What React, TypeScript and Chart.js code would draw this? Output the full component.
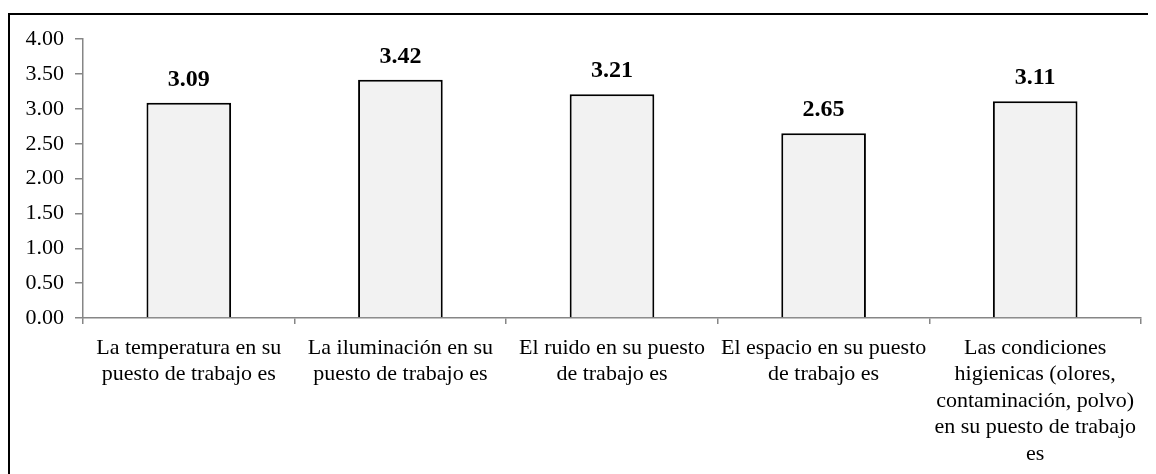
import React, { useEffect, useRef } from "react";
import { Chart, registerables } from "chart.js";

Chart.register(...registerables);

const categories: string[][] = [
  ["La temperatura en su", "puesto de trabajo es"],
  ["La iluminación en su", "puesto de trabajo es"],
  ["El ruido en su puesto", "de trabajo es"],
  ["El espacio en su puesto", "de trabajo es"],
  ["Las condiciones", "higienicas (olores,", "contaminación, polvo)", "en su puesto de trabajo", "es"],
];
const values: number[] = [3.09, 3.42, 3.21, 2.65, 3.11];
const yMin = 0;
const yMax = 4;
const yStep = 0.5;

const FONT = "'Liberation Serif', 'Times New Roman', serif";

const valueLabels = {
  id: "valueLabels",
  afterDatasetsDraw(chart: any) {
    const ctx = chart.ctx;
    const meta = chart.getDatasetMeta(0);
    ctx.save();
    ctx.font = `bold 24px ${FONT}`;
    ctx.fillStyle = "#000";
    ctx.textAlign = "center";
    ctx.textBaseline = "middle";
    meta.data.forEach((bar: any, i: number) => {
      const v = chart.data.datasets[0].data[i] as number;
      ctx.fillText(v.toFixed(2), bar.x, bar.y - 23);
    });
    ctx.restore();
  },
};

export default function App() {
  const ref = useRef<HTMLCanvasElement | null>(null);
  useEffect(() => {
    if (!ref.current) return;
    const chart = new Chart(ref.current, {
      type: "bar",
      data: {
        labels: categories,
        datasets: [
          {
            data: values,
            backgroundColor: "#f2f2f2",
            borderColor: "#000",
            borderWidth: 2,
            barPercentage: 0.4,
            categoryPercentage: 1,
          },
        ],
      },
      options: {
        responsive: false,
        animation: false,
        layout: { padding: { left: 0, top: 24, right: 15, bottom: 0 } },
        plugins: { legend: { display: false }, tooltip: { enabled: false } },
        scales: {
          y: {
            min: yMin,
            max: yMax,
            ticks: {
              stepSize: yStep,
              color: "#000",
              padding: 11,
              font: { family: FONT, size: 22 },
              callback: (v: any) => Number(v).toFixed(2),
            },
            grid: { drawOnChartArea: false, drawTicks: true, tickLength: 8, color: "#868686", lineWidth: 1.5 },
            border: { color: "#868686", width: 1.5 },
            afterFit: (s: any) => {
              s.width = 73;
            },
          },
          x: {
            ticks: {
              color: "#000",
              padding: 11,
              maxRotation: 0,
              autoSkip: false,
              font: { family: FONT, size: 22, lineHeight: 1.2 },
            },
            grid: { drawOnChartArea: false, drawTicks: true, tickLength: 6, color: "#868686", lineWidth: 1.5, offset: true },
            border: { color: "#868686", width: 1.5 },
            afterFit: (s: any) => {
              s.height = 156;
            },
          },
        },
      },
      plugins: [valueLabels],
    });
    return () => chart.destroy();
  }, []);

  return (
    <div
      style={{
        marginTop: 5,
        width: 1148,
        height: 461,
        borderTop: "2px solid #000",
        borderLeft: "2px solid #000",
        boxSizing: "border-box",
        overflow: "hidden",
      }}
    >
      <canvas ref={ref} width={1146} height={459} style={{ display: "block" }} />
    </div>
  );
}
